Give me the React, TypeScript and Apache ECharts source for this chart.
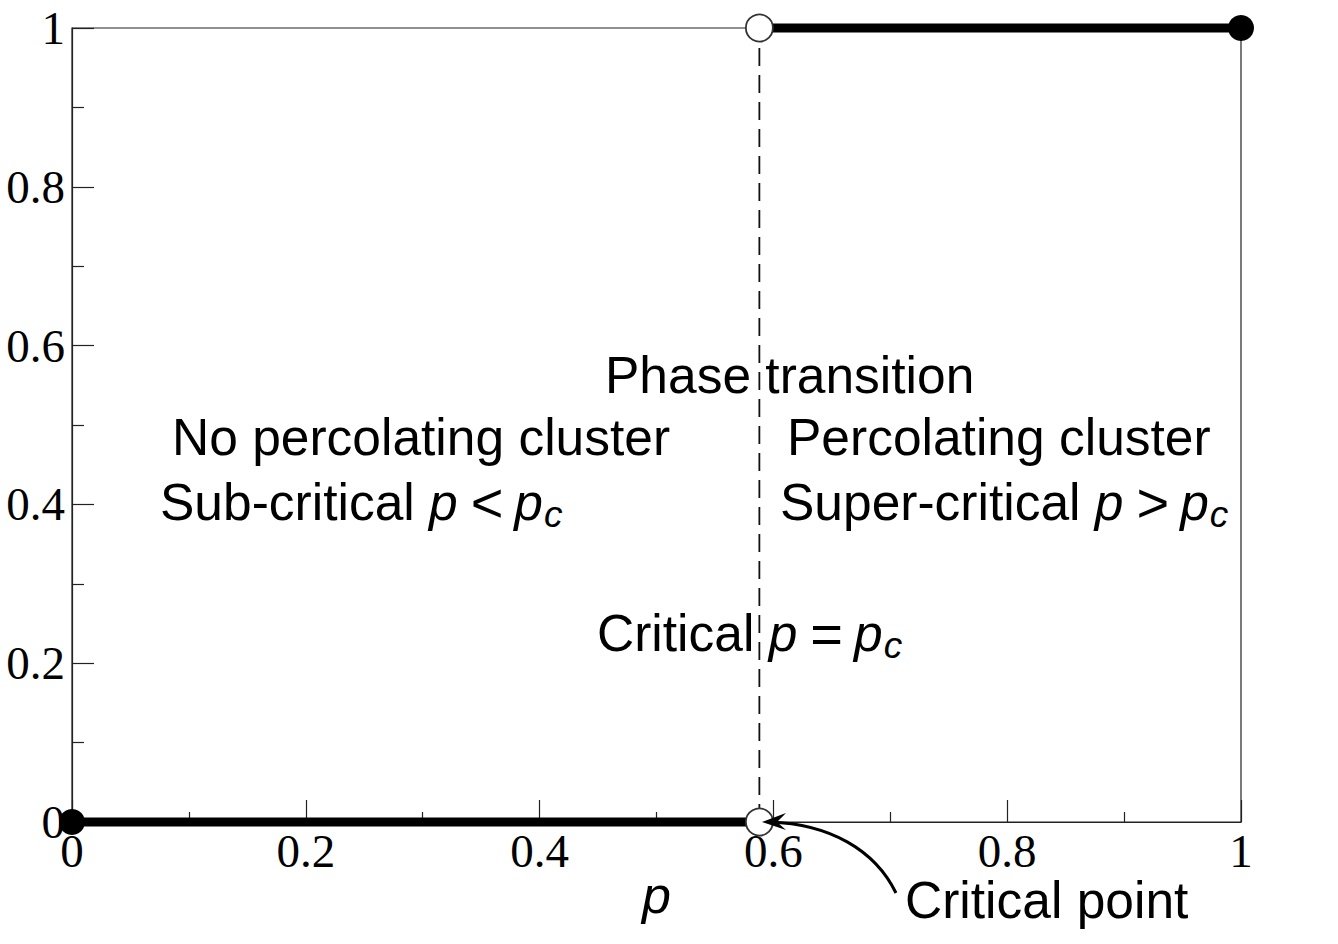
import React, { useEffect, useRef } from "react";
import * as echarts from "echarts";

const pc = 0.588;
const lowerBranch: number[][] = [[0, 0], [pc, 0]];
const upperBranch: number[][] = [[pc, 1], [1, 1]];
const criticalLine: number[][] = [[pc, 0], [pc, 1]];
const closedPoints: number[][] = [[0, 0], [1, 1]];
const openPoints: number[][] = [[pc, 0], [pc, 1]];
const axisMin = 0;
const axisMax = 1;
const tickInterval = 0.2;

const SANS = "'Liberation Sans', Arial, Helvetica, sans-serif";
const SERIF = "'Liberation Serif', 'Times New Roman', serif";
const FS = 51.5;

const rich = {
  n: { fontFamily: SANS, fontSize: FS, color: "#000", lineHeight: 50 },
  i: { fontFamily: SANS, fontSize: FS, fontStyle: "italic", color: "#000", lineHeight: 50 },
  o: { fontFamily: SANS, fontSize: 56, color: "#000", lineHeight: 50, padding: [0, 11, 0, 13] },
  s: { fontFamily: SANS, fontSize: 37, fontStyle: "italic", color: "#000", lineHeight: 50, padding: [24, 0, 0, 1] },
};

export default function App() {
  const ref = useRef<HTMLDivElement>(null);
  useEffect(() => {
    if (!ref.current) return;
    const chart = echarts.init(ref.current, null, { renderer: "svg" });
    const textEl = (x: number, y: number, text: string, align = "left") => ({
      type: "text",
      x,
      y,
      z: 100,
      style: {
        text,
        rich,
        fontFamily: SANS,
        fontSize: FS,
        fill: "#000",
        align,
        verticalAlign: "middle",
      },
    });
    chart.setOption({
      animation: false,
      backgroundColor: "#fff",
      grid: { left: 72, right: 97, top: 28, bottom: 122, show: true, borderColor: "#222", borderWidth: 1.2 },
      xAxis: {
        type: "value",
        min: axisMin,
        max: axisMax,
        interval: tickInterval,
        axisLine: { show: true, lineStyle: { color: "#222", width: 1.2 } },
        axisTick: { show: true, inside: true, length: 22, lineStyle: { color: "#222", width: 1.2 } },
        minorTick: { show: true, splitNumber: 2, length: 10, lineStyle: { color: "#222", width: 1.2 } },
        splitLine: { show: false },
        axisLabel: { fontFamily: SERIF, fontSize: 47, lineHeight: 36, color: "#000", margin: 11 },
        name: "p",
        nameLocation: "middle",
        nameGap: 48,
        nameMoveOverlap: false,
        nameTextStyle: { fontFamily: SANS, fontSize: 52, lineHeight: 50, fontStyle: "italic", color: "#000" },
      },
      yAxis: {
        type: "value",
        min: axisMin,
        max: axisMax,
        interval: tickInterval,
        axisLine: { show: true, lineStyle: { color: "#222", width: 1.2 } },
        axisTick: { show: true, inside: true, length: 22, lineStyle: { color: "#222", width: 1.2 } },
        minorTick: { show: true, splitNumber: 2, length: 12, lineStyle: { color: "#222", width: 1.2 } },
        splitLine: { show: false },
        axisLabel: { fontFamily: SERIF, fontSize: 47, lineHeight: 40, color: "#000", margin: 7 },
      },
      series: [
        {
          type: "line",
          data: criticalLine,
          symbol: "none",
          z: 1,
          clip: false,
          lineStyle: { color: "#111", width: 1.8, type: [18, 9] },
        },
        {
          type: "line",
          data: lowerBranch,
          symbol: "none",
          z: 2,
          clip: false,
          lineStyle: { color: "#000", width: 9 },
        },
        {
          type: "line",
          data: upperBranch,
          symbol: "none",
          z: 2,
          clip: false,
          lineStyle: { color: "#000", width: 9 },
        },
        {
          type: "scatter",
          data: closedPoints,
          symbol: "circle",
          symbolSize: 26,
          z: 5,
          clip: false,
          itemStyle: { color: "#000", opacity: 1 },
        },
        {
          type: "scatter",
          data: openPoints,
          symbol: "circle",
          symbolSize: 27,
          z: 5,
          clip: false,
          itemStyle: { color: "#fff", borderColor: "#333", borderWidth: 1.8, opacity: 1 },
        },
      ],
      graphic: [
        textEl(605, 375, "{n|Phase transition}"),
        textEl(172, 437, "{n|No percolating cluster}"),
        textEl(160, 502, "{n|Sub-critical }{i|p}{o|<}{i|p}{s|c}"),
        textEl(787, 437, "{n|Percolating cluster}"),
        textEl(780, 502, "{n|Super-critical }{i|p}{o|>}{i|p}{s|c}"),
        textEl(597, 633, "{n|Critical }{i|p}{o|=}{i|p}{s|c}"),
        textEl(905, 900, "{n|Critical point}"),
        {
          type: "bezierCurve",
          z: 100,
          shape: { x1: 896, y1: 893, cpx1: 875, cpy1: 850, cpx2: 830, cpy2: 824, x2: 770, y2: 822 },
          style: { stroke: "#000", lineWidth: 3, fill: null },
        },
        {
          type: "polygon",
          z: 100,
          shape: { points: [[762, 822], [786, 813], [777, 822], [786, 830]] },
          style: { fill: "#000" },
        },
      ],
    });
    return () => chart.dispose();
  }, []);
  return (
    <div
      ref={ref}
      style={{ position: "fixed", left: 0, top: 0, width: 1338, height: 944, background: "#fff" }}
    />
  );
}
